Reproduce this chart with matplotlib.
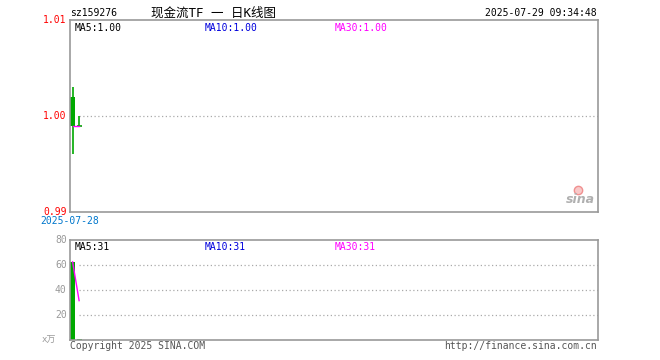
import matplotlib.pyplot as plt

# k-line data (2 trading sessions)
dates = ["2025-07-28", "2025-07-29"]
opens = [1.002, 0.999]
closes = [0.999, 0.999]
highs = [1.003, 1.000]
lows = [0.996, 0.999]
volumes = [62.5, 1.2]   # x万
ma_price = [0.999, 0.999]
ma_vol = [62.5, 31.5]

price_ticks = [0.99, 1.00, 1.01]
vol_ticks = [20, 40, 60, 80]

W, H = 660, 360
mono = ["DejaVu Sans Mono", "Noto Sans CJK SC"]
green = "#00a800"
frame = "#999999"
grid = "#aaaaaa"

fig = plt.figure(figsize=(6.6, 3.6), dpi=100)

def px_axes(x0, y0, x1, y1):
    return fig.add_axes([x0 / W, 1 - y1 / H, (x1 - x0) / W, (y1 - y0) / H])

ax = px_axes(70, 20, 598, 212)
axv = px_axes(70, 240, 598, 340)

xs = list(range(len(dates)))
for a in (ax, axv):
    a.set_xlim(-0.4, 80.8)
    a.set_xticks([])
    a.set_yticks([])
    for s in a.spines.values():
        s.set_color(frame)
        s.set_linewidth(1.2)

# price panel
ax.set_ylim(price_ticks[0], price_ticks[-1])
ax.plot([1.0, 81], [1.00, 1.00], ls=(0, (1, 2)), color=grid, lw=0.9)
for i in xs:
    body = opens[i] - closes[i]
    if abs(body) < 1e-9:
        ax.hlines(closes[i], i - 0.4, i + 0.4, color=green, lw=1.2)
    else:
        ax.bar(i, body, bottom=closes[i], width=0.75, color=green, lw=0)
    ax.vlines(i, lows[i], highs[i], color=green, lw=1.2)
ax.plot(xs, ma_price, color="#ff00ff", lw=1)

for t in price_ticks:
    ax.text(-0.9, t, f"{t:.2f}", color="red", fontsize=7, family=mono,
            ha="right", va="center", clip_on=False)
ax.text(0.008, 0.985, "MA5:1.00", transform=ax.transAxes, fontsize=7,
        family=mono, color="black", va="top")
ax.text(0.255, 0.985, "MA10:1.00", transform=ax.transAxes, fontsize=7,
        family=mono, color="#0000dd", va="top")
ax.text(0.502, 0.985, "MA30:1.00", transform=ax.transAxes, fontsize=7,
        family=mono, color="#ff00ff", va="top")
ax.text(0.995, 0.03, "sina", transform=ax.transAxes, fontsize=9,
        color="#b0b0b0", ha="right", va="bottom", style="italic",
        weight="bold")
ax.plot([0.962], [0.115], transform=ax.transAxes, marker="o", ms=6,
        mfc="#f8c8c8", mec="#f09090", mew=1)

# volume panel
axv.set_ylim(0, 80)
for t in vol_ticks[:-1]:
    axv.plot([1.0, 81], [t, t], ls=(0, (1, 2)), color=grid, lw=0.9)
axv.bar(xs, volumes, width=0.75, color=green, lw=0)
axv.plot(xs, ma_vol, color="#ff00ff", lw=1)
for t in vol_ticks:
    axv.text(-0.9, t, str(t), color="#999999", fontsize=7, family=mono,
             ha="right", va="center", clip_on=False)
axv.text(-2.6, 0, "x万", color="#999999", fontsize=6.5, family=mono,
         ha="right", va="center", clip_on=False)
axv.text(0.008, 0.98, "MA5:31", transform=axv.transAxes, fontsize=7,
         family=mono, color="black", va="top")
axv.text(0.255, 0.98, "MA10:31", transform=axv.transAxes, fontsize=7,
         family=mono, color="#0000dd", va="top")
axv.text(0.502, 0.98, "MA30:31", transform=axv.transAxes, fontsize=7,
         family=mono, color="#ff00ff", va="top")

# header / footer texts
fig.text(70 / W, 1 - 13 / H, "sz159276", fontsize=7, family=mono, va="center")
fig.text(213 / W, 1 - 13 / H, "现金流TF 一 日K线图", fontsize=9, family=mono,
         ha="center", va="center")
fig.text(597 / W, 1 - 13 / H, "2025-07-29 09:34:48", fontsize=7, family=mono,
         ha="right", va="center")
fig.text(70 / W, 1 - 221 / H, dates[0], fontsize=7, family=mono,
         color="#0077cc", ha="center", va="center")
fig.text(70 / W, 1 - 346 / H, "Copyright 2025 SINA.COM", fontsize=7,
         family=mono, color="#555555", va="center")
fig.text(597 / W, 1 - 346 / H, "http://finance.sina.com.cn", fontsize=7,
         family=mono, color="#555555", ha="right", va="center")

fig.savefig("out.png", dpi=100)
